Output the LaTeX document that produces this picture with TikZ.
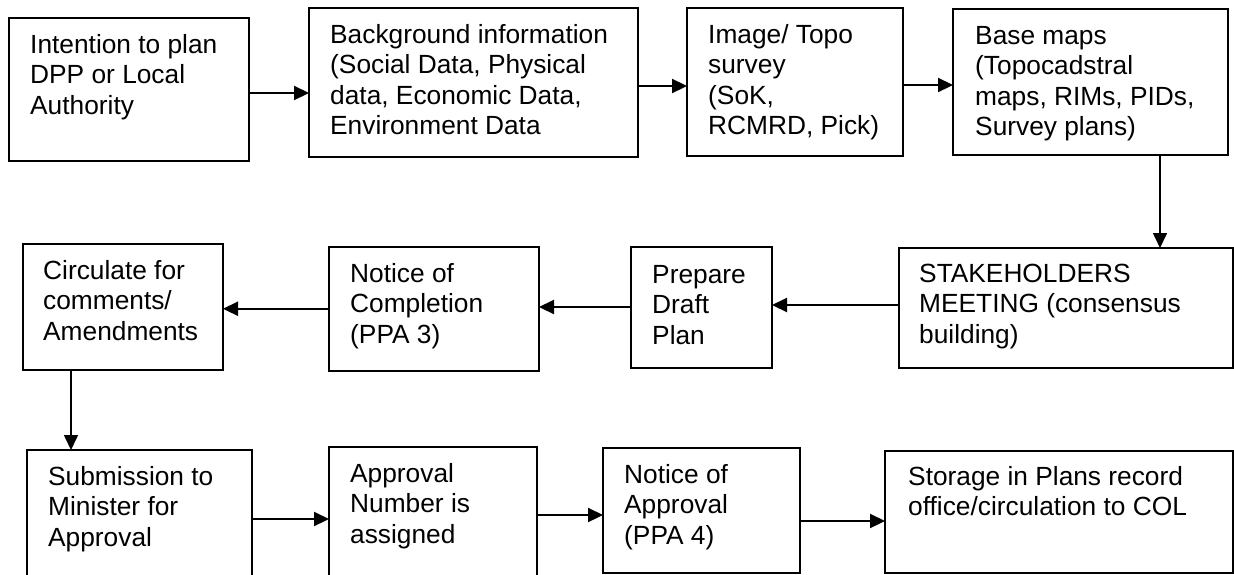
\documentclass[tikz,border=0pt]{standalone}
\usepackage{fontspec}
\setmainfont{Liberation Sans}
\usetikzlibrary{arrows.meta}
% left-aligned multi-line label whose reference point is the first baseline
\newcommand\boxlines[1]{\begin{tabular}[t]{@{}l@{}}#1\end{tabular}}
\begin{document}
\begin{tikzpicture}[x=1pt,y=-1pt,
  stepbox/.style={draw, line width=2pt, rectangle, inner sep=0pt, outer sep=0pt, anchor=north west},
  steptext/.style={anchor=base west, inner sep=0pt, font=\fontsize{26.3}{30.5}\selectfont},
  flow/.style={line width=2.2pt, -{Triangle[length=15pt,width=14pt]}},
  drop/.style={line width=1.6pt, -{Triangle[length=15pt,width=14pt]}}]
\useasboundingbox (0,0) rectangle (1234,574);
\fill[white] (0,0) rectangle (1234,574);
\clip (0,0) rectangle (1234,574);

% first row
\node[stepbox, minimum width=240pt, minimum height=143pt] (b1) at (9,18) {};
\node[stepbox, minimum width=329pt, minimum height=149pt] (b2) at (309,8) {};
\node[stepbox, minimum width=216pt, minimum height=148pt] (b3) at (687,8) {};
\node[stepbox, minimum width=275pt, minimum height=146pt] (b4) at (953,9) {};
\node[steptext] (t1) at (30,53) {\boxlines{Intention to plan\\DPP or Local\\Authority}};
\node[steptext] (t2) at (330,43) {\boxlines{Background information\\(Social Data, Physical\\data, Economic Data,\\Environment Data}};
\node[steptext] (t3) at (708,43) {\boxlines{Image/ Topo\\survey\\(SoK,\\RCMRD, Pick)}};
\node[steptext] (t4) at (975,44) {\boxlines{Base maps\\(Topocadstral\\maps, RIMs, PIDs,\\Survey plans)}};

% second row (right to left)
\node[stepbox, minimum width=333.5pt, minimum height=120pt] (b5) at (899,248) {};
\node[stepbox, minimum width=141pt, minimum height=121pt] (b6) at (631,247) {};
\node[stepbox, minimum width=210.5pt, minimum height=124.5pt] (b7) at (328.5,246.5) {};
\node[stepbox, minimum width=200pt, minimum height=126pt] (b8) at (23,244) {};
\node[steptext] (t5) at (919,282) {\boxlines{STAKEHOLDERS\\MEETING (consensus\\building)}};
\node[steptext] (t6) at (652,283) {\boxlines{Prepare\\Draft\\Plan}};
\node[steptext] (t7) at (350,282) {\boxlines{Notice of\\Completion\\(PPA 3)}};
\node[steptext] (t8) at (43,279) {\boxlines{Circulate for\\comments/\\Amendments}};

% third row
\node[stepbox, minimum width=225pt, minimum height=200pt] (b9) at (27,450) {};
\node[stepbox, minimum width=208pt, minimum height=200pt] (b10) at (329,447) {};
\node[stepbox, minimum width=197pt, minimum height=125pt] (b11) at (603,448) {};
\node[stepbox, minimum width=347.5pt, minimum height=122pt] (b12) at (885,451) {};
\node[steptext] (t9) at (48,485) {\boxlines{Submission to\\Minister for\\Approval}};
\node[steptext] (t10) at (350,482) {\boxlines{Approval\\Number is\\assigned}};
\node[steptext] (t11) at (624,483) {\boxlines{Notice of\\Approval\\(PPA 4)}};
\node[steptext] (t12) at (908,485) {\boxlines{Storage in Plans record\\office/circulation to COL}};

% connectors
\coordinate (s12) at ([yshift=-3.5pt]b1.east);
\draw[flow] (s12) -- (s12 -| b2.west);
\coordinate (s23) at ([yshift=-3.5pt]b2.east);
\draw[flow] (s23) -- (s23 -| b3.west);
\coordinate (s34) at ([yshift=-3pt]b3.east);
\draw[flow] (s34) -- (s34 -| b4.west);
\coordinate (s45) at ([xshift=69.5pt]b4.south);
\draw[drop] (s45) -- (s45 |- b5.north);
\coordinate (s56) at ([yshift=3pt]b5.west);
\draw[flow] (s56) -- (s56 -| b6.east);
\coordinate (s67) at ([yshift=0.5pt]b6.west);
\draw[flow] (s67) -- (s67 -| b7.east);
\coordinate (s78) at (b7.west);
\draw[flow] (s78) -- (s78 -| b8.east);
\coordinate (s89) at ([xshift=-52pt]b8.south);
\draw[drop] (s89) -- (s89 |- b9.north);
\coordinate (s910) at ([yshift=-69pt]b9.north east);
\draw[flow] (s910) -- (s910 -| b10.west);
\coordinate (s1011) at ([yshift=-68pt]b10.north east);
\draw[flow] (s1011) -- (s1011 -| b11.west);
\coordinate (s1112) at ([yshift=-10.5pt]b11.east);
\draw[flow] (s1112) -- (s1112 -| b12.west);
\end{tikzpicture}
\end{document}
